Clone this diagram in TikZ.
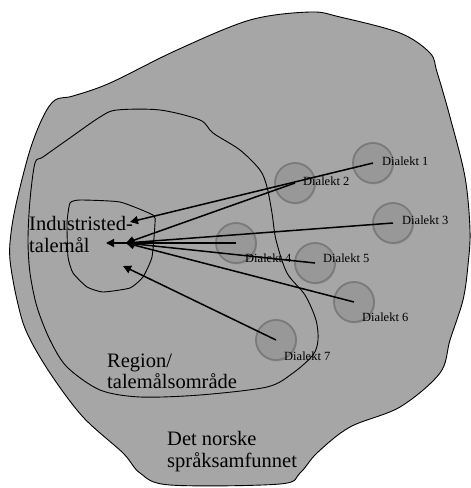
\documentclass[tikz,border=0pt]{standalone}
\usepackage{fontspec}
\setmainfont{Liberation Serif}
\usetikzlibrary{arrows.meta,shadows}
\definecolor{bgfill}{RGB}{166,166,166}
\definecolor{cfill}{RGB}{152,152,152}
\definecolor{cline}{RGB}{122,122,122}
\tikzset{
  area/.style={draw=black,line width=0.9pt},
  dcirc/.style={circle,minimum size=40pt,inner sep=0pt,fill=cfill,draw=cline,line width=1.8pt,
     drop shadow={opacity=0.35,shadow xshift=1pt,shadow yshift=-1.5pt}},
  dlab/.style={anchor=base west,inner sep=0pt,font=\fontsize{12.5}{14}\selectfont},
  biglab/.style={anchor=base west,inner sep=0pt,font=\fontsize{20.5}{23}\selectfont},
  arr/.style={line width=1.5pt,-{Triangle[length=8pt,width=8pt]}}
}
\begin{document}
\begin{tikzpicture}[x=1pt,y=-1pt]
\useasboundingbox (0,0) rectangle (471,488);
% outer area
\draw[area,fill=bgfill] plot[smooth cycle,tension=0.55] coordinates{
 (55,100) (73,96) (110,83) (177,50) (250,20) (310,12) (340,17) (400,33) (430,53) (437,72)
 (450,117) (465,177) (470,230) (468,265) (463,300) (450,340) (440,373) (400,407) (350,427)
 (317,453) (300,473) (280,484) (170,485) (140,473) (123,453) (83,417) (50,373) (27,333)
 (17,300) (10,260) (11,233) (17,200) (30,150) (43,117)};
% region
\draw[area] plot[smooth cycle,tension=0.5] coordinates{
 (35,163) (43,157) (67,140) (100,117) (117,110) (160,110) (200,120) (213,133) (240,150)
 (260,170) (267,187) (272,213) (276,240) (287,273) (305,295) (316,320) (318,340) (313,355)
 (293,373) (267,387) (200,395) (140,397) (100,390) (67,367) (50,340) (37,307) (30,273)
 (28,240) (30,200)};
% inner
\draw[area] plot[smooth cycle,tension=0.3] coordinates{
 (70,203) (80,200) (120,202) (153,215) (155,223) (152,257) (143,277) (130,288) (103,292)
 (87,287) (73,273) (68,257) (67,223)};
% circles
\node[dcirc] (d1) at (373,163) {};
\node[dcirc] (d2) at (295,183) {};
\node[dcirc] (d3) at (393,223) {};
\node[dcirc] (d4) at (236,243) {};
\node[dcirc] (d5) at (315,263) {};
\node[dcirc] (d6) at (354,302) {};
\node[dcirc] (d7) at (276,340) {};
% labels
\node[dlab] (l1) at (382,165) {Dialekt 1};
\node[dlab] (l2) at (303,185) {Dialekt 2};
\node[dlab] (l3) at (402,224) {Dialekt 3};
\node[dlab] (l4) at (245,262) {Dialekt 4};
\node[dlab] (l5) at (323,262) {Dialekt 5};
\node[dlab] (l6) at (362,321) {Dialekt 6};
\node[dlab] (l7) at (284,360) {Dialekt 7};
\node[biglab] (ind) at (29,230) {Industristed-};
\node[biglab] (tal) at (29,252) {talemål};
\node[biglab] (reg) at (107,367) {Region/};
\node[biglab] (tom) at (107,388) {talemålsområde};
\node[biglab] (det) at (167,445) {Det norske};
\node[biglab] (spr) at (167,467) {språksamfunnet};
% targets
\coordinate (t1) at (130,222);
\coordinate (t2) at (126,243);
\coordinate (t4) at (106,243);
\coordinate (t7) at (123,266);
% arrows
\draw[arr] (d1.center) -- (t1);
\draw[arr] (d2.center) -- (t2);
\draw[arr] (d3.center) -- (t2);
\draw[arr] (d4.center) -- (t4);
\draw[arr] (d5.center) -- (t2);
\draw[arr] (d6.center) -- (t2);
\draw[arr] (d7.center) -- (t7);
\end{tikzpicture}
\end{document}
